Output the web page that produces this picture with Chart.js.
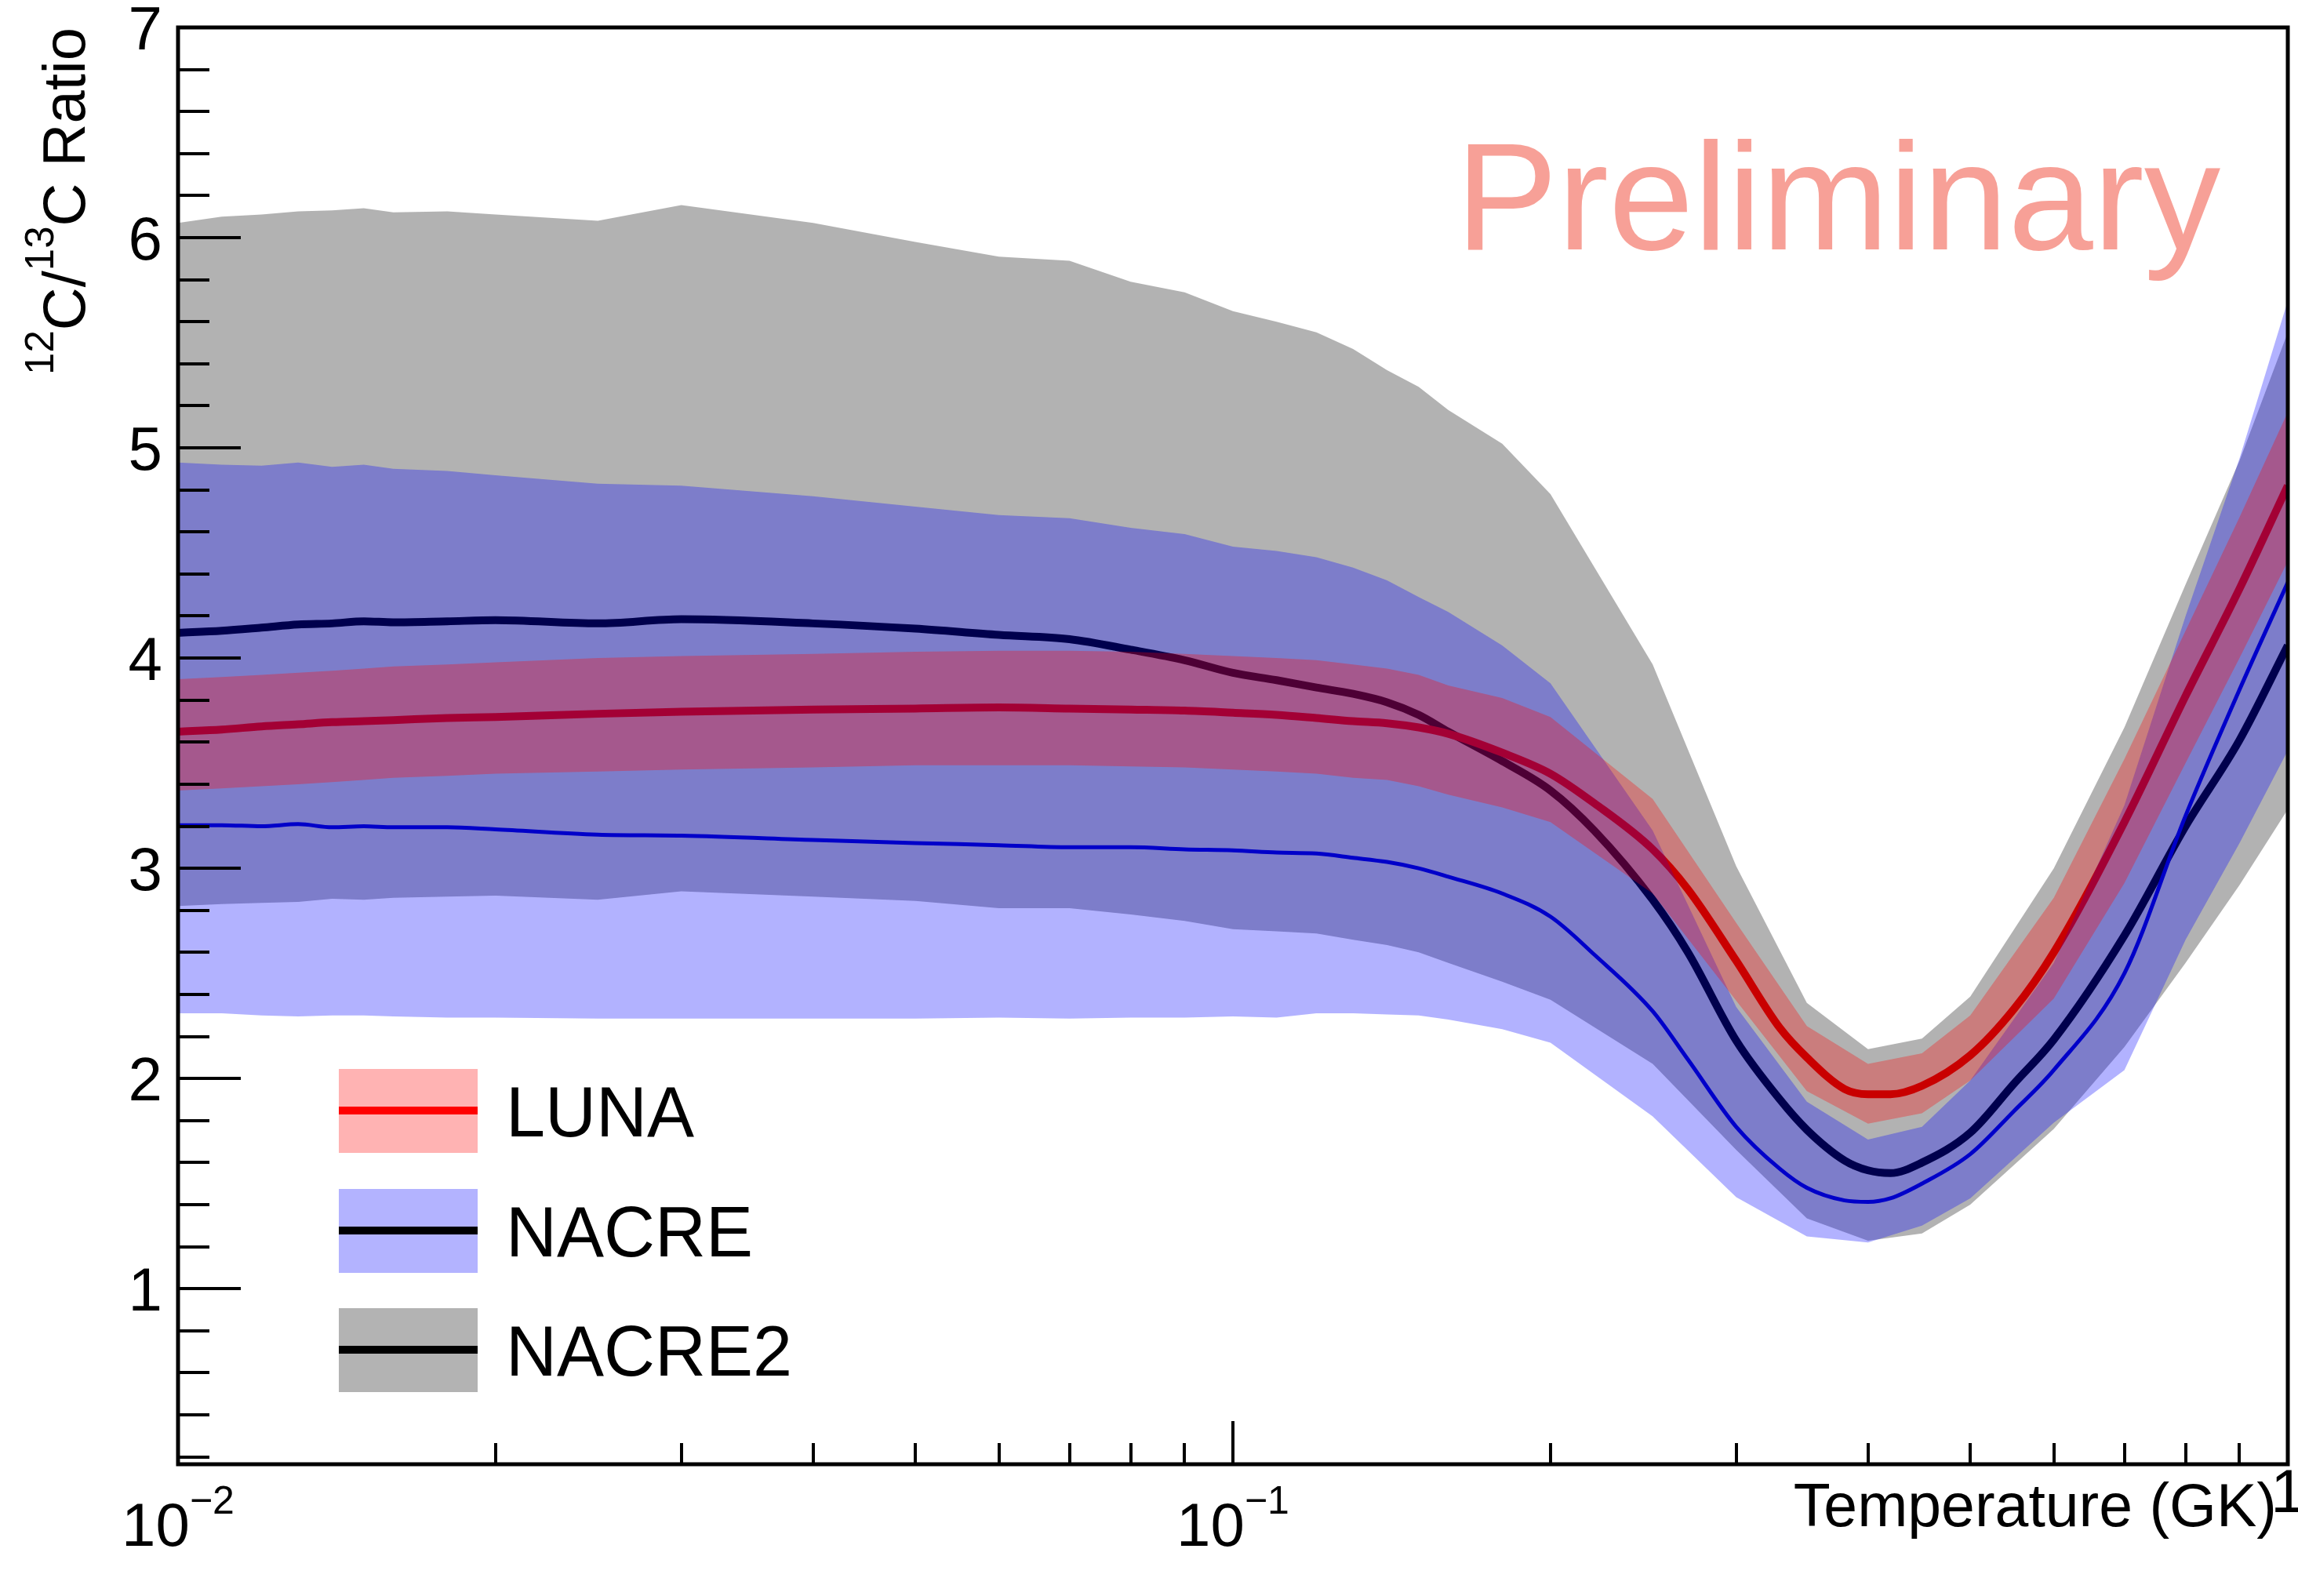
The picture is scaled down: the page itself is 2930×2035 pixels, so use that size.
<!DOCTYPE html>
<html>
<head>
<meta charset="utf-8">
<script src="https://cdn.jsdelivr.net/npm/chart.js@4.4.1/dist/chart.umd.min.js"></script>
<style>
html, body { margin: 0; padding: 0; background: #fff; }
canvas { display: block; }
</style>
</head>
<body>
<canvas id="chart" width="2930" height="2035"></canvas>
<script>
'use strict';

// temperature grid of the bands (GK)
var temps = [0.010, 0.011, 0.012, 0.013, 0.014, 0.015, 0.016, 0.018, 0.020, 0.025,
    0.030, 0.040, 0.050, 0.060, 0.070, 0.080, 0.090, 0.10, 0.11, 0.12,
    0.13, 0.14, 0.15, 0.16, 0.18, 0.20, 0.25, 0.30, 0.35, 0.40,
    0.45, 0.50, 0.60, 0.70, 0.80, 0.90, 1.0];

// temperature grid of the central lines (GK)
var tempsFine = [0.010, 0.011, 0.012, 0.013, 0.014, 0.015, 0.016, 0.018, 0.020, 0.025,
    0.030, 0.040, 0.050, 0.060, 0.070, 0.080, 0.090, 0.10, 0.11, 0.12,
    0.13, 0.14, 0.15, 0.16, 0.18, 0.20, 0.22, 0.25, 0.27, 0.30,
    0.33, 0.35, 0.38, 0.40, 0.42, 0.45, 0.50, 0.55, 0.60, 0.70,
    0.80, 0.90, 1.0];

var lunaHigh = [3.90, 3.91, 3.92, 3.93, 3.94, 3.95, 3.96, 3.97, 3.98, 4.00,
    4.01, 4.02, 4.03, 4.035, 4.035, 4.03, 4.02, 4.01, 4.00, 3.99,
    3.97, 3.95, 3.92, 3.87, 3.81, 3.72, 3.33, 2.74, 2.25, 2.07,
    2.12, 2.30, 2.86, 3.52, 4.13, 4.67, 5.17];
var lunaLow = [3.37, 3.38, 3.39, 3.40, 3.41, 3.42, 3.43, 3.44, 3.45, 3.46,
    3.47, 3.48, 3.49, 3.49, 3.49, 3.485, 3.48, 3.47, 3.46, 3.45,
    3.43, 3.42, 3.39, 3.35, 3.29, 3.22, 2.88, 2.37, 1.94, 1.785,
    1.835, 1.99, 2.38, 2.93, 3.50, 4.00, 4.46];

var nacreHigh = [4.93, 4.92, 4.915, 4.93, 4.91, 4.92, 4.90, 4.89, 4.87, 4.83,
    4.82, 4.77, 4.72, 4.68, 4.665, 4.62, 4.59, 4.53, 4.51, 4.48,
    4.43, 4.37, 4.29, 4.22, 4.06, 3.88, 3.18, 2.34, 1.89, 1.71,
    1.77, 1.99, 2.55, 3.30, 4.20, 4.95, 5.70];
var nacreLow = [2.31, 2.31, 2.30, 2.295, 2.30, 2.30, 2.295, 2.29, 2.29, 2.285,
    2.285, 2.285, 2.285, 2.29, 2.285, 2.29, 2.29, 2.295, 2.29, 2.31,
    2.31, 2.305, 2.30, 2.28, 2.235, 2.17, 1.82, 1.435, 1.249, 1.22,
    1.30, 1.43, 1.79, 2.04, 2.66, 3.12, 3.56];

var nacre2High = [6.07, 6.10, 6.11, 6.125, 6.13, 6.14, 6.12, 6.125, 6.11, 6.08,
    6.155, 6.07, 5.98, 5.91, 5.89, 5.79, 5.74, 5.65, 5.60, 5.55,
    5.47, 5.37, 5.29, 5.18, 5.02, 4.78, 3.97, 3.01, 2.36, 2.14,
    2.19, 2.39, 3.00, 3.67, 4.35, 4.94, 5.55];
var nacre2Low = [2.82, 2.83, 2.835, 2.84, 2.855, 2.85, 2.86, 2.865, 2.87, 2.85,
    2.89, 2.865, 2.845, 2.81, 2.81, 2.78, 2.75, 2.71, 2.70, 2.69,
    2.66, 2.635, 2.60, 2.55, 2.46, 2.375, 2.07, 1.66, 1.335, 1.228,
    1.263, 1.40, 1.76, 2.15, 2.55, 2.92, 3.28];

var lunaRatio = [3.65, 3.66, 3.675, 3.685, 3.695, 3.70, 3.705, 3.715, 3.72, 3.735,
    3.745, 3.755, 3.76, 3.765, 3.76, 3.755, 3.75, 3.74, 3.73, 3.715,
    3.70, 3.69, 3.67, 3.64, 3.55, 3.45, 3.31, 3.09, 2.90, 2.56,
    2.24, 2.10, 1.95, 1.925, 1.925, 1.965, 2.11, 2.33, 2.60, 3.22,
    3.82, 4.33, 4.82];
var nacreRatio = [3.205, 3.205, 3.20, 3.21, 3.195, 3.20, 3.195, 3.195, 3.185, 3.16,
    3.155, 3.135, 3.12, 3.11, 3.10, 3.10, 3.09, 3.085, 3.075, 3.07,
    3.05, 3.03, 3.00, 2.96, 2.88, 2.77, 2.59, 2.32, 2.09, 1.77,
    1.57, 1.48, 1.42, 1.413, 1.43, 1.50, 1.64, 1.845, 2.04, 2.50,
    3.25, 3.85, 4.36];
var nacre2Ratio = [4.12, 4.13, 4.145, 4.16, 4.165, 4.175, 4.17, 4.175, 4.18, 4.165,
    4.185, 4.165, 4.14, 4.11, 4.09, 4.04, 3.99, 3.93, 3.895, 3.86,
    3.83, 3.79, 3.73, 3.65, 3.51, 3.37, 3.18, 2.85, 2.60, 2.18,
    1.90, 1.756, 1.61, 1.563, 1.55, 1.60, 1.742, 1.975, 2.185, 2.68,
    3.20, 3.61, 4.06];

// axis ticks and labels
var yMajorTicks = [1, 2, 3, 4, 5, 6, 7];
var yTickLabels = ['1', '2', '3', '4', '5', '6', '7'];
var xMajorTicks = [0.01, 0.1, 1];
var xTickBase = ['10', '10', '1'];
var xTickExp = ['\u22122', '\u22121', ''];

var legendNames = ['LUNA', 'NACRE', 'NACRE2'];

var FONT = '"Liberation Sans", Arial, Helvetica, sans-serif';

function pts(xs, ys) {
    return xs.map(function (x, i) { return {x: x, y: ys[i]}; });
}

function band(label, values, fillColor, order, fill) {
    return {
        label: label,
        data: pts(temps, values),
        borderWidth: 0,
        borderColor: 'transparent',
        backgroundColor: fillColor,
        pointRadius: 0,
        tension: 0,
        fill: fill,
        order: order
    };
}

function line(label, values, color, width, order) {
    return {
        label: label,
        data: pts(tempsFine, values),
        borderColor: color,
        borderWidth: width,
        pointRadius: 0,
        fill: false,
        cubicInterpolationMode: 'monotone',
        order: order
    };
}

var rootAxes = {
    id: 'rootAxes',
    afterDraw: function (chart) {
        var ctx = chart.ctx;
        var a = chart.chartArea;
        var xs = chart.scales.x;
        var ys = chart.scales.y;
        var i, k, d, x, y, len;

        ctx.save();
        ctx.strokeStyle = '#000';
        ctx.fillStyle = '#000';

        // y ticks, inside the frame
        ctx.lineWidth = 4;
        for (i = 1; i <= 35; i++) {
            y = Math.round(ys.getPixelForValue(i / 5));
            len = (i % 5 === 0) ? 80 : 40;
            ctx.beginPath();
            ctx.moveTo(a.left, y);
            ctx.lineTo(a.left + len, y);
            ctx.stroke();
        }

        // x ticks (log decades)
        for (d = -2; d <= 0; d++) {
            for (k = 1; k <= 9; k++) {
                var v = k * Math.pow(10, d);
                if (v > 1.0001) { break; }
                x = Math.round(xs.getPixelForValue(v));
                len = (k === 1) ? 55 : 27;
                ctx.beginPath();
                ctx.moveTo(x, a.bottom);
                ctx.lineTo(x, a.bottom - len);
                ctx.stroke();
            }
        }

        // frame
        ctx.lineWidth = 5;
        ctx.strokeRect(a.left, a.top, a.right - a.left, a.bottom - a.top);

        // y tick labels
        ctx.font = '78px ' + FONT;
        ctx.textAlign = 'right';
        ctx.textBaseline = 'alphabetic';
        yMajorTicks.forEach(function (v, j) {
            ctx.fillText(yTickLabels[j], 207, ys.getPixelForValue(v) + 28);
        });

        // x tick labels with exponents
        ctx.textAlign = 'left';
        xMajorTicks.forEach(function (v, j) {
            var px = xs.getPixelForValue(v);
            ctx.font = '78px ' + FONT;
            var wb = ctx.measureText(xTickBase[j]).width;
            ctx.font = '50px ' + FONT;
            var we = xTickExp[j] ? ctx.measureText(xTickExp[j]).width : 0;
            var x0 = px - (wb + we) / 2;
            ctx.font = '78px ' + FONT;
            if (xTickExp[j]) {
                ctx.fillText(xTickBase[j], x0, 1971);
                ctx.font = '50px ' + FONT;
                ctx.fillText(xTickExp[j], x0 + wb, 1930);
            } else {
                ctx.fillText(xTickBase[j], x0, 1928);
            }
        });

        // x title
        ctx.font = '77px ' + FONT;
        ctx.textAlign = 'right';
        ctx.fillText('Temperature (GK)', 2903, 1946);

        // y title, rotated, ending at the top of the frame
        ctx.save();
        ctx.translate(108, a.top);
        ctx.rotate(-Math.PI / 2);
        ctx.textAlign = 'left';
        var parts = [['12', 51, -40], ['C/', 76, 0], ['13', 51, -40], ['C Ratio', 76, 0]];
        var total = 0;
        parts.forEach(function (p) {
            ctx.font = p[1] + 'px ' + FONT;
            p.push(ctx.measureText(p[0]).width);
            total += p[3];
        });
        var cx = -total;
        parts.forEach(function (p) {
            ctx.font = p[1] + 'px ' + FONT;
            ctx.fillText(p[0], cx, p[2]);
            cx += p[3];
        });
        ctx.restore();

        // legend
        var boxFill = ['#ffb3b3', '#b3b3ff', '#b3b3b3'];
        var boxLine = ['#ff0000', '#000000', '#000000'];
        var centers = [1416, 1569, 1721];
        ctx.textAlign = 'left';
        ctx.font = '90px ' + FONT;
        legendNames.forEach(function (name, j) {
            ctx.fillStyle = boxFill[j];
            ctx.fillRect(432, centers[j] - 53, 177, 107);
            ctx.fillStyle = boxLine[j];
            ctx.fillRect(432, centers[j] - 5, 177, 10);
            ctx.fillStyle = '#000';
            ctx.fillText(name, 645, centers[j] + 33);
        });

        // watermark
        ctx.fillStyle = 'rgb(247,160,151)';
        ctx.font = '195px ' + FONT;
        ctx.fillText('Preliminary', 1856, 318);

        ctx.restore();
    }
};

var ctx = document.getElementById('chart').getContext('2d');
var chart = new Chart(ctx, {
    type: 'line',
    data: {
        datasets: [
            band('LUNA high', lunaHigh, 'rgba(255,0,0,0.3)', 1, '+1'),
            band('LUNA low', lunaLow, 'transparent', 1, false),
            band('NACRE high', nacreHigh, 'rgba(0,0,255,0.3)', 2, '+1'),
            band('NACRE low', nacreLow, 'transparent', 2, false),
            band('NACRE2 high', nacre2High, 'rgba(0,0,0,0.3)', 3, '+1'),
            band('NACRE2 low', nacre2Low, 'transparent', 3, false),
            line('LUNA', lunaRatio, '#ff0000', 10, 4),
            line('NACRE', nacreRatio, '#0000ff', 5, 5),
            line('NACRE2', nacre2Ratio, '#000000', 10, 6)
        ]
    },
    options: {
        responsive: false,
        animation: false,
        devicePixelRatio: 1,
        layout: {padding: {left: 227, top: 35, right: 13, bottom: 168}},
        scales: {
            x: {type: 'logarithmic', min: 0.01, max: 1, display: false},
            y: {type: 'linear', min: 0.165, max: 7, display: false}
        },
        plugins: {
            legend: {display: false},
            tooltip: {enabled: false}
        }
    },
    plugins: [rootAxes]
});
</script>
</body>
</html>
